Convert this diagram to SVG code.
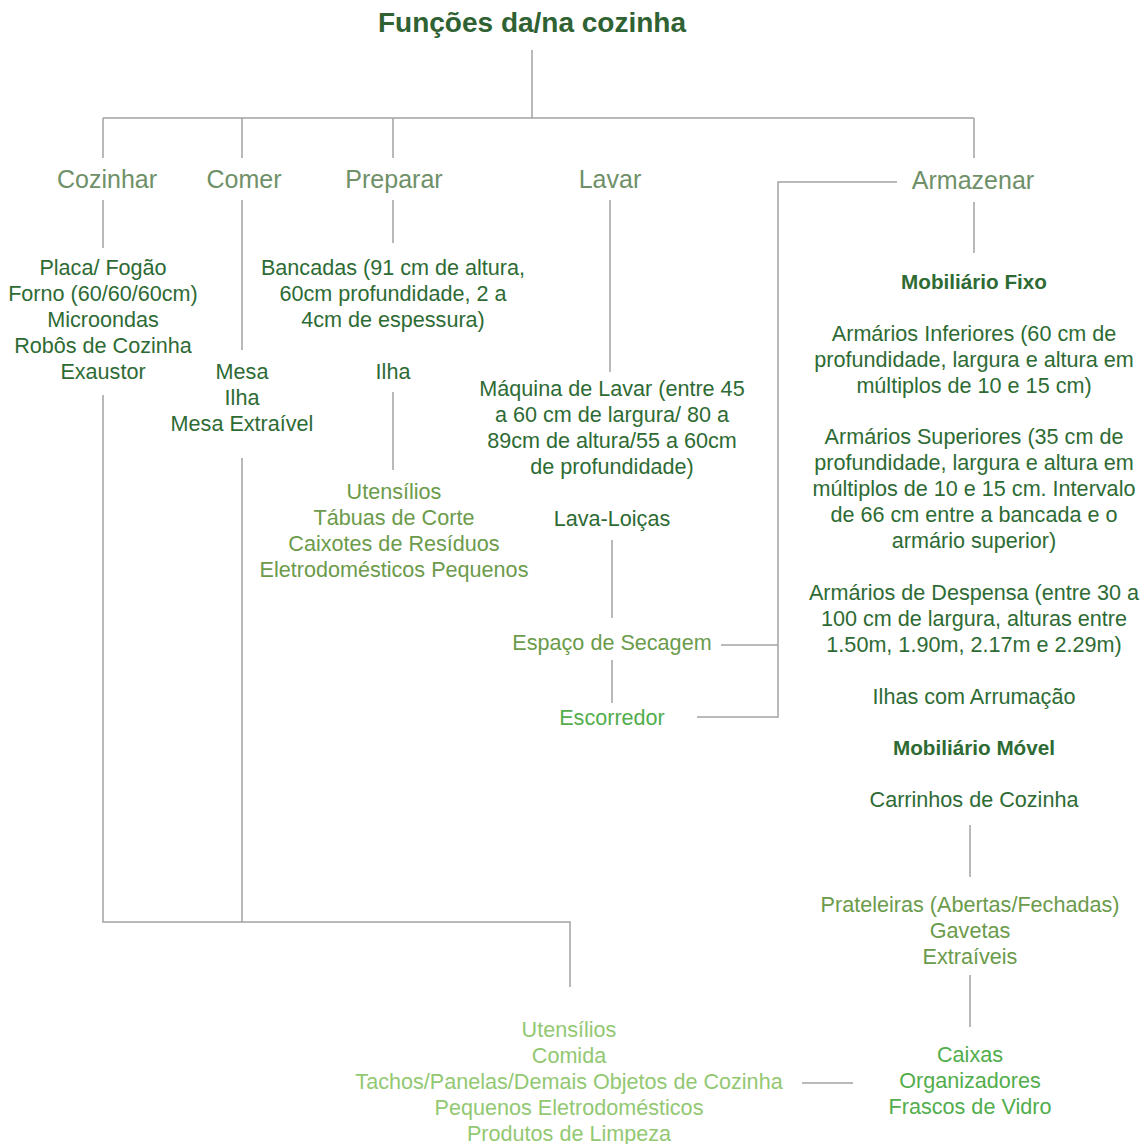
<svg xmlns="http://www.w3.org/2000/svg" width="1146" height="1144" viewBox="0 0 1146 1144">
<style>
text{font-family:"Liberation Sans",Arial,sans-serif;text-anchor:middle}
.title{font-size:28px;font-weight:bold;fill:#2f6233}
.cat{font-size:25px;fill:#6f9068}
.body{font-size:21.6px;fill:#2e6b34}
.bold{font-size:20.7px;font-weight:bold;fill:#2e6b34}
.olive{font-size:21.6px;fill:#6b9b4b}
.bright{font-size:21.6px;fill:#52ad4c}
.light{font-size:21.6px;fill:#92c872}
.ln{stroke:#a3a3a3;stroke-width:1.5;fill:none}
</style>
<rect width="1146" height="1144" fill="#ffffff"/>
<g id="connectors" class="ln">
<path d="M532 50V118M103 118H974M103 118V158M242 118V158M393 118V158M974 118V158"/>
<path d="M103 200V248M103 395V922H570V987M242 200V350M242 458V922"/>
<path d="M393 200V243M393 392V470"/>
<path d="M610 200V372M612 540V618M612 660V703"/>
<path d="M721 645H778M697 717H778V182H897"/>
<path d="M974 202V253M970 825V877M970 975V1027M802 1083H853"/>
</g>
<g id="title"><text class="title" x="532" y="32">Funções da/na cozinha</text></g>
<g id="cozinhar"><text class="cat" x="107" y="188">Cozinhar</text></g>
<g id="comer"><text class="cat" x="244" y="188">Comer</text></g>
<g id="preparar"><text class="cat" x="394" y="188">Preparar</text></g>
<g id="lavar"><text class="cat" x="610" y="188">Lavar</text></g>
<g id="armazenar"><text class="cat" x="973" y="189">Armazenar</text></g>
<g id="cozinhar-items">
<text class="body" x="103" y="275">Placa/ Fogão</text>
<text class="body" x="103" y="301">Forno (60/60/60cm)</text>
<text class="body" x="103" y="327">Microondas</text>
<text class="body" x="103" y="353">Robôs de Cozinha</text>
<text class="body" x="103" y="379">Exaustor</text>
</g>
<g id="comer-items">
<text class="body" x="242" y="379">Mesa</text>
<text class="body" x="242" y="405">Ilha</text>
<text class="body" x="242" y="431">Mesa Extraível</text>
</g>
<g id="bancadas">
<text class="body" x="393" y="275">Bancadas (91 cm de altura,</text>
<text class="body" x="393" y="301">60cm profundidade, 2 a</text>
<text class="body" x="393" y="327">4cm de espessura)</text>
</g>
<g id="ilha-preparar"><text class="body" x="393" y="379">Ilha</text></g>
<g id="preparar-storage">
<text class="olive" x="394" y="499">Utensílios</text>
<text class="olive" x="394" y="525">Tábuas de Corte</text>
<text class="olive" x="394" y="551">Caixotes de Resíduos</text>
<text class="olive" x="394" y="577">Eletrodomésticos Pequenos</text>
</g>
<g id="maquina">
<text class="body" x="612" y="396">Máquina de Lavar (entre 45</text>
<text class="body" x="612" y="422">a 60 cm de largura/ 80 a</text>
<text class="body" x="612" y="448">89cm de altura/55 a 60cm</text>
<text class="body" x="612" y="474">de profundidade)</text>
</g>
<g id="lava-loicas"><text class="body" x="612" y="526">Lava-Loiças</text></g>
<g id="secagem"><text class="olive" x="612" y="650">Espaço de Secagem</text></g>
<g id="escorredor"><text class="bright" x="612" y="725">Escorredor</text></g>
<g id="fixo">
<text class="bold" x="974" y="289">Mobiliário Fixo</text>
<text class="body" x="974" y="341">Armários Inferiores (60 cm de</text>
<text class="body" x="974" y="367">profundidade, largura e altura em</text>
<text class="body" x="974" y="393">múltiplos de 10 e 15 cm)</text>
<text class="body" x="974" y="444">Armários Superiores (35 cm de</text>
<text class="body" x="974" y="470">profundidade, largura e altura em</text>
<text class="body" x="974" y="496">múltiplos de 10 e 15 cm. Intervalo</text>
<text class="body" x="974" y="522">de 66 cm entre a bancada e o</text>
<text class="body" x="974" y="548">armário superior)</text>
<text class="body" x="974" y="600">Armários de Despensa (entre 30 a</text>
<text class="body" x="974" y="626">100 cm de largura, alturas entre</text>
<text class="body" x="974" y="652">1.50m, 1.90m, 2.17m e 2.29m)</text>
<text class="body" x="974" y="704">Ilhas com Arrumação</text>
</g>
<g id="movel">
<text class="bold" x="974" y="755">Mobiliário Móvel</text>
<text class="body" x="974" y="807">Carrinhos de Cozinha</text>
</g>
<g id="prateleiras">
<text class="olive" x="970" y="912">Prateleiras (Abertas/Fechadas)</text>
<text class="olive" x="970" y="938">Gavetas</text>
<text class="olive" x="970" y="964">Extraíveis</text>
</g>
<g id="caixas">
<text class="bright" x="970" y="1062">Caixas</text>
<text class="bright" x="970" y="1088">Organizadores</text>
<text class="bright" x="970" y="1114">Frascos de Vidro</text>
</g>
<g id="itens">
<text class="light" x="569" y="1037">Utensílios</text>
<text class="light" x="569" y="1063">Comida</text>
<text class="light" x="569" y="1089">Tachos/Panelas/Demais Objetos de Cozinha</text>
<text class="light" x="569" y="1115">Pequenos Eletrodomésticos</text>
<text class="light" x="569" y="1141">Produtos de Limpeza</text>
</g>
</svg>
